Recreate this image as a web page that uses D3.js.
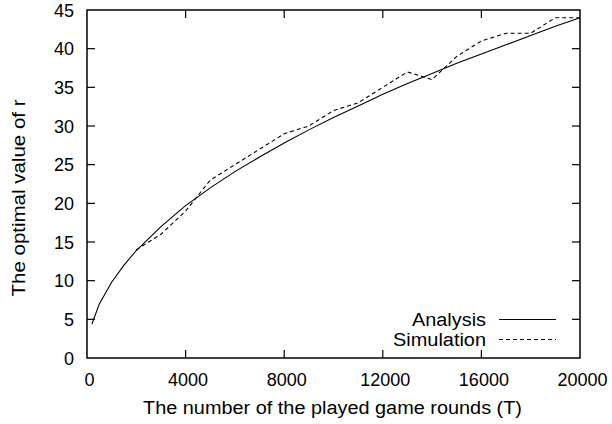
<!DOCTYPE html>
<html>
<head>
<meta charset="utf-8">
<style>
  body { margin: 0; background: #fff; }
  svg text { font-family: "Liberation Sans", Arial, sans-serif; fill: #000; font-size: 18px; }
  .frame { fill: none; stroke: #000; stroke-width: 1.5px; }
  .tick { stroke: #000; stroke-width: 1.2px; }
  .analysis { fill: none; stroke: #000; stroke-width: 1.1px; }
  .simulation { fill: none; stroke: #000; stroke-width: 1.1px; stroke-dasharray: 4,3; }
</style>
</head>
<body>
<svg id="chart" width="612" height="424"></svg>
<script src="https://cdn.jsdelivr.net/npm/d3@7"></script>
<script>
  // Analysis curve
  var analysisT = [200, 500, 1000, 1500, 2000, 3000, 4000, 5000, 6000, 7000, 8000, 9000, 10000,
                   11000, 12000, 13000, 14000, 15000, 16000, 17000, 18000, 19000, 20000];
  var analysisR = [4.4, 7.0, 9.8, 12.0, 13.9, 17.0, 19.7, 22.0, 24.1, 26.0, 27.8, 29.5, 31.1,
                   32.6, 34.1, 35.5, 36.8, 38.1, 39.3, 40.5, 41.7, 42.9, 44.0];
  // Simulation points
  var simT = [2000, 3000, 4000, 5000, 6000, 7000, 8000, 9000, 10000, 11000, 12000,
              13000, 14000, 15000, 16000, 17000, 18000, 19000, 20000];
  var simR = [14, 16, 19, 23, 25, 27, 29, 30, 32, 33, 35, 37, 36, 39, 41, 42, 42, 44, 44];

  var xTicks = [0, 4000, 8000, 12000, 16000, 20000];
  var yTicks = [0, 5, 10, 15, 20, 25, 30, 35, 40, 45];
  var legendLabels = ["Analysis", "Simulation"];

  var mLeft = 87, mRight = 580, mTop = 10, mBottom = 358;
  var svg = d3.select('#chart');
  var x = d3.scaleLinear().domain([0, 20000]).range([mLeft, mRight]);
  var y = d3.scaleLinear().domain([0, 45]).range([mBottom, mTop]);
  var tickLen = 8;

  // ticks (inward, mirrored on top and right)
  var tg = svg.append('g');
  xTicks.slice(1, -1).forEach(function(t) {
    tg.append('line').attr('class', 'tick')
      .attr('x1', x(t)).attr('x2', x(t)).attr('y1', mBottom).attr('y2', mBottom - tickLen);
    tg.append('line').attr('class', 'tick')
      .attr('x1', x(t)).attr('x2', x(t)).attr('y1', mTop).attr('y2', mTop + tickLen);
  });
  yTicks.slice(1, -1).forEach(function(t) {
    tg.append('line').attr('class', 'tick')
      .attr('x1', mLeft).attr('x2', mLeft + tickLen).attr('y1', y(t)).attr('y2', y(t));
    tg.append('line').attr('class', 'tick')
      .attr('x1', mRight).attr('x2', mRight - tickLen).attr('y1', y(t)).attr('y2', y(t));
  });

  // tick labels
  svg.selectAll('.xl').data(xTicks).enter().append('text')
    .attr('text-anchor', 'middle')
    .attr('x', function(d) { return x(d) + 2.5; }).attr('y', 386)
    .text(function(d) { return d; });
  svg.selectAll('.yl').data(yTicks).enter().append('text')
    .attr('text-anchor', 'end')
    .attr('x', 74).attr('y', function(d) { return y(d) + 6.5; })
    .text(function(d) { return d; });

  // axis titles
  svg.append('text').attr('text-anchor', 'middle')
    .attr('x', 332.5).attr('y', 414)
    .attr('textLength', 379).attr('lengthAdjust', 'spacingAndGlyphs')
    .text('The number of the played game rounds (T)');
  svg.append('text').attr('text-anchor', 'middle')
    .attr('transform', 'translate(25,198) rotate(-90)')
    .attr('textLength', 197).attr('lengthAdjust', 'spacingAndGlyphs')
    .text('The optimal value of r');

  // lines
  var line = d3.line().x(function(d) { return x(d[0]); }).y(function(d) { return y(d[1]); });
  svg.append('path').attr('class', 'analysis')
    .attr('d', line(d3.zip(analysisT, analysisR)));
  svg.append('path').attr('class', 'simulation')
    .attr('d', line(d3.zip(simT, simR)));

  // legend
  var legendY = [319.5, 339.5];
  var legendW = [74, 93];
  legendLabels.forEach(function(lab, i) {
    svg.append('text').attr('text-anchor', 'end')
      .attr('x', 486).attr('y', legendY[i] + 6)
      .attr('textLength', legendW[i]).attr('lengthAdjust', 'spacingAndGlyphs')
      .text(lab);
    svg.append('line').attr('class', i === 0 ? 'analysis' : 'simulation')
      .attr('x1', 499).attr('x2', 556).attr('y1', legendY[i]).attr('y2', legendY[i]);
  });

  // frame
  svg.append('rect').attr('class', 'frame')
    .attr('x', mLeft).attr('y', mTop).attr('width', mRight - mLeft).attr('height', mBottom - mTop);
</script>
</body>
</html>
